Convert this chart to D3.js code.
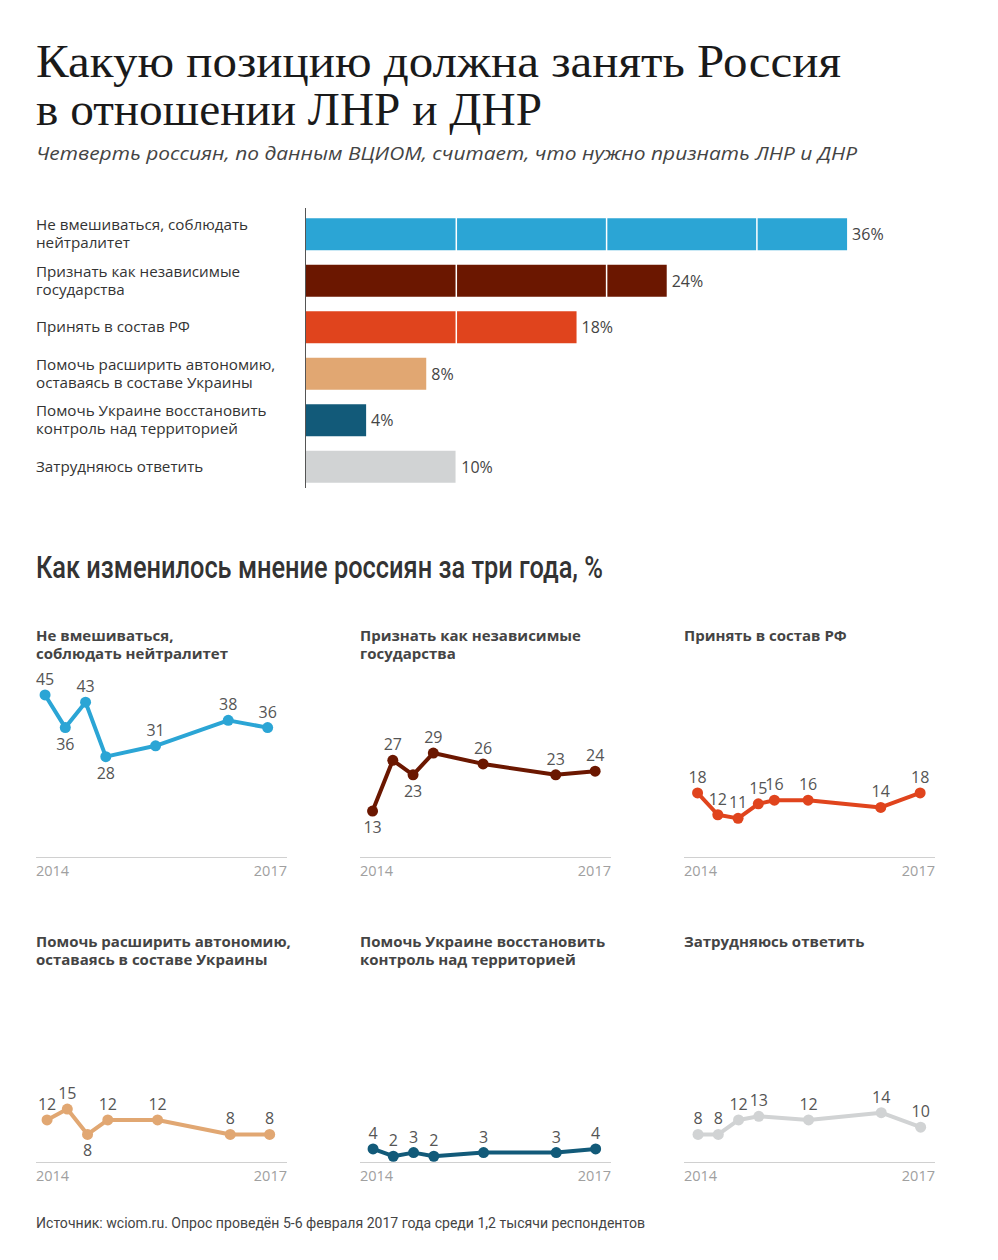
<!DOCTYPE html>
<html>
<head>
<meta charset="utf-8">
<script src="https://cdn.jsdelivr.net/npm/d3@7"></script>
<style>
  html, body { margin: 0; padding: 0; background: #fff; }
  svg { display: block; }
</style>
</head>
<body>
<svg id="chart" width="998" height="1260"></svg>
<script>
// ---------- DATA ----------
const titleLines = ["Какую позицию должна занять Россия", "в отношении ЛНР и ДНР"];
const subtitle = "Четверть россиян, по данным ВЦИОМ, считает, что нужно признать ЛНР и ДНР";
const trendTitle = "Как изменилось мнение россиян за три года, %";
const sourceText = "Источник: wciom.ru. Опрос проведён 5-6 февраля 2017 года среди 1,2 тысячи респондентов";

const categories = [
  ["Не вмешиваться, соблюдать", "нейтралитет"],
  ["Признать как независимые", "государства"],
  ["Принять в состав РФ"],
  ["Помочь расширить автономию,", "оставаясь в составе Украины"],
  ["Помочь Украине восстановить", "контроль над территорией"],
  ["Затрудняюсь ответить"]
];
const barValues = [36, 24, 18, 8, 4, 10];
const barColors = ["#2ba5d5", "#6b1700", "#e0441d", "#e1a772", "#125a79", "#d1d3d4"];
const gridTicks = [10, 20, 30];

const panelTitles = [
  ["Не вмешиваться,", "соблюдать нейтралитет"],
  ["Признать как независимые", "государства"],
  ["Принять в состав РФ"],
  ["Помочь расширить автономию,", "оставаясь в составе Украины"],
  ["Помочь Украине восстановить", "контроль над территорией"],
  ["Затрудняюсь ответить"]
];
const surveyDates = ["2014-05-01", "2014-08-01", "2014-11-01", "2015-02-01", "2015-09-15", "2016-08-10", "2017-02-05"];
const surveyDatesRF = ["2014-05-01", "2014-08-01", "2014-11-01", "2015-02-01", "2015-04-15", "2015-09-15", "2016-08-10", "2017-02-05"];
const trendNeutral = [45, 36, 43, 28, 31, 38, 36];
const trendRecognize = [13, 27, 23, 29, 26, 23, 24];
const trendAnnex = [18, 12, 11, 15, 16, 16, 14, 18];
const trendAutonomy = [12, 15, 8, 12, 12, 8, 8];
const trendUkraine = [4, 2, 3, 2, 3, 3, 4];
const trendUnsure = [8, 8, 12, 13, 12, 14, 10];
const labelsBelow = [[1, 3], [0, 2], [], [2], [], []];
const yearLabels = ["2014", "2017"];

// ---------- SETUP ----------
const svg = d3.select("#chart");
const sans = "'Open Sans', 'Noto Sans', sans-serif";

function fit(sel, w) {
  sel.attr("textLength", w).attr("lengthAdjust", "spacingAndGlyphs");
}

// Title
const titleWidths = [805, 506];
titleLines.forEach((t, i) => {
  svg.append("text")
    .attr("x", 36).attr("y", 77 + i * 48)
    .attr("font-family", "'Liberation Serif', 'DejaVu Serif', serif")
    .attr("font-size", 47)
    .attr("fill", "#1a1a1a")
    .text(t)
    .call(fit, titleWidths[i]);
});
svg.append("text")
  .attr("x", 36).attr("y", 160)
  .attr("font-family", sans)
  .attr("font-style", "italic")
  .attr("font-size", 19)
  .attr("fill", "#444")
  .text(subtitle)
  .call(fit, 821);

// ---------- BAR CHART ----------
const xBar = d3.scaleLinear().domain([0, 40]).range([306, 306 + 601.2]);
const yBar = d3.scaleBand().domain(d3.range(categories.length)).range([213, 488])
  .paddingInner(0.312).paddingOuter(0.113);

const barG = svg.append("g");
barG.selectAll("rect.bar").data(barValues).join("rect")
  .attr("class", "bar")
  .attr("x", xBar(0))
  .attr("y", (d, i) => yBar(i))
  .attr("width", d => xBar(d) - xBar(0))
  .attr("height", yBar.bandwidth())
  .attr("fill", (d, i) => barColors[i]);

barG.selectAll("line.grid").data(gridTicks).join("line")
  .attr("class", "grid")
  .attr("x1", d => xBar(d)).attr("x2", d => xBar(d))
  .attr("y1", 208).attr("y2", 488)
  .attr("stroke", "#fff").attr("stroke-width", 1.5);

barG.append("line")
  .attr("x1", xBar(0) - 0.5).attr("x2", xBar(0) - 0.5)
  .attr("y1", 208).attr("y2", 488)
  .attr("stroke", "#555").attr("stroke-width", 1);

barG.selectAll("text.val").data(barValues).join("text")
  .attr("class", "val")
  .attr("x", d => xBar(d) + 5)
  .attr("y", (d, i) => yBar(i) + yBar.bandwidth() / 2 + 6)
  .attr("font-family", sans).attr("font-size", 16).attr("fill", "#444")
  .text(d => d + "%");

categories.forEach((lines, i) => {
  const cy = yBar(i) + yBar.bandwidth() / 2;
  const t = barG.append("text")
    .attr("font-family", sans).attr("font-size", 15.2).attr("fill", "#333");
  lines.forEach((ln, j) => {
    t.append("tspan")
      .attr("x", 36)
      .attr("y", cy + 5 + (j - (lines.length - 1) / 2) * 18)
      .text(ln);
  });
});

// ---------- TRENDS ----------
svg.append("text")
  .attr("x", 36).attr("y", 578)
  .attr("font-family", "'Roboto', 'DejaVu Sans Condensed', sans-serif")
  .attr("font-weight", 500)
  .attr("font-size", 31)
  .attr("fill", "#333")
  .text(trendTitle)
  .call(fit, 567);

const trendSeries = [trendNeutral, trendRecognize, trendAnnex, trendAutonomy, trendUkraine, trendUnsure];
const trendDates = [surveyDates, surveyDates, surveyDatesRF, surveyDates, surveyDates, surveyDates];
const parse = d3.timeParse("%Y-%m-%d");

const colX = [36, 360, 684];
const rowTitleY = [641, 947];
const rowZero = [858.3, 1163.5];
const rowAxis = [857.5, 1162.5];
const panelDx = [-3.5, 0, 1, -1.5, 0.5, 1.5];
const panelW = 251;

const xT = d3.scaleTime()
  .domain([parse("2014-03-05"), parse("2017-04-18")])
  .range([0, panelW]);
const yT = d3.scaleLinear().domain([0, 50]).range([0, -181.5]);

trendSeries.forEach((vals, k) => {
  const col = k % 3, row = Math.floor(k / 3);
  const g = svg.append("g").attr("transform", `translate(${colX[col]},0)`);
  const color = barColors[k];

  // title
  const tt = g.append("text")
    .attr("font-family", sans).attr("font-size", 15).attr("font-weight", 700).attr("fill", "#444");
  panelTitles[k].forEach((ln, j) => {
    tt.append("tspan").attr("x", 0).attr("y", rowTitleY[row] + j * 18).text(ln);
  });

  // axis
  g.append("line")
    .attr("x1", 0).attr("x2", panelW)
    .attr("y1", rowAxis[row]).attr("y2", rowAxis[row])
    .attr("stroke", "#d0d0d0").attr("stroke-width", 1);
  g.append("text")
    .attr("x", 0).attr("y", rowAxis[row] + 18)
    .attr("font-family", sans).attr("font-size", 14.5).attr("fill", "#a0a0a0")
    .text(yearLabels[0]);
  g.append("text")
    .attr("x", panelW).attr("y", rowAxis[row] + 18)
    .attr("text-anchor", "end")
    .attr("font-family", sans).attr("font-size", 14.5).attr("fill", "#a0a0a0")
    .text(yearLabels[1]);

  const pts = vals.map((v, i) => ({ v, d: parse(trendDates[k][i]), i }));
  const plot = g.append("g").attr("transform", `translate(${panelDx[k]},${rowZero[row]})`);

  const line = d3.line().x(p => xT(p.d)).y(p => yT(p.v));
  plot.append("path")
    .datum(pts)
    .attr("d", line)
    .attr("fill", "none")
    .attr("stroke", color)
    .attr("stroke-width", 4)
    .attr("stroke-linejoin", "round");

  plot.selectAll("circle").data(pts).join("circle")
    .attr("cx", p => xT(p.d)).attr("cy", p => yT(p.v))
    .attr("r", 5.5).attr("fill", color);

  plot.selectAll("text.lbl").data(pts).join("text")
    .attr("class", "lbl")
    .attr("x", p => xT(p.d))
    .attr("y", p => yT(p.v) + (labelsBelow[k].includes(p.i) ? 22 : -10))
    .attr("text-anchor", "middle")
    .attr("font-family", sans).attr("font-size", 16).attr("fill", "#555")
    .text(p => p.v);
});

// Source
svg.append("text")
  .attr("x", 36).attr("y", 1228)
  .attr("font-family", "'Roboto', sans-serif")
  .attr("font-size", 14)
  .attr("fill", "#444")
  .text(sourceText)
  .call(fit, 609);
</script>
</body>
</html>
